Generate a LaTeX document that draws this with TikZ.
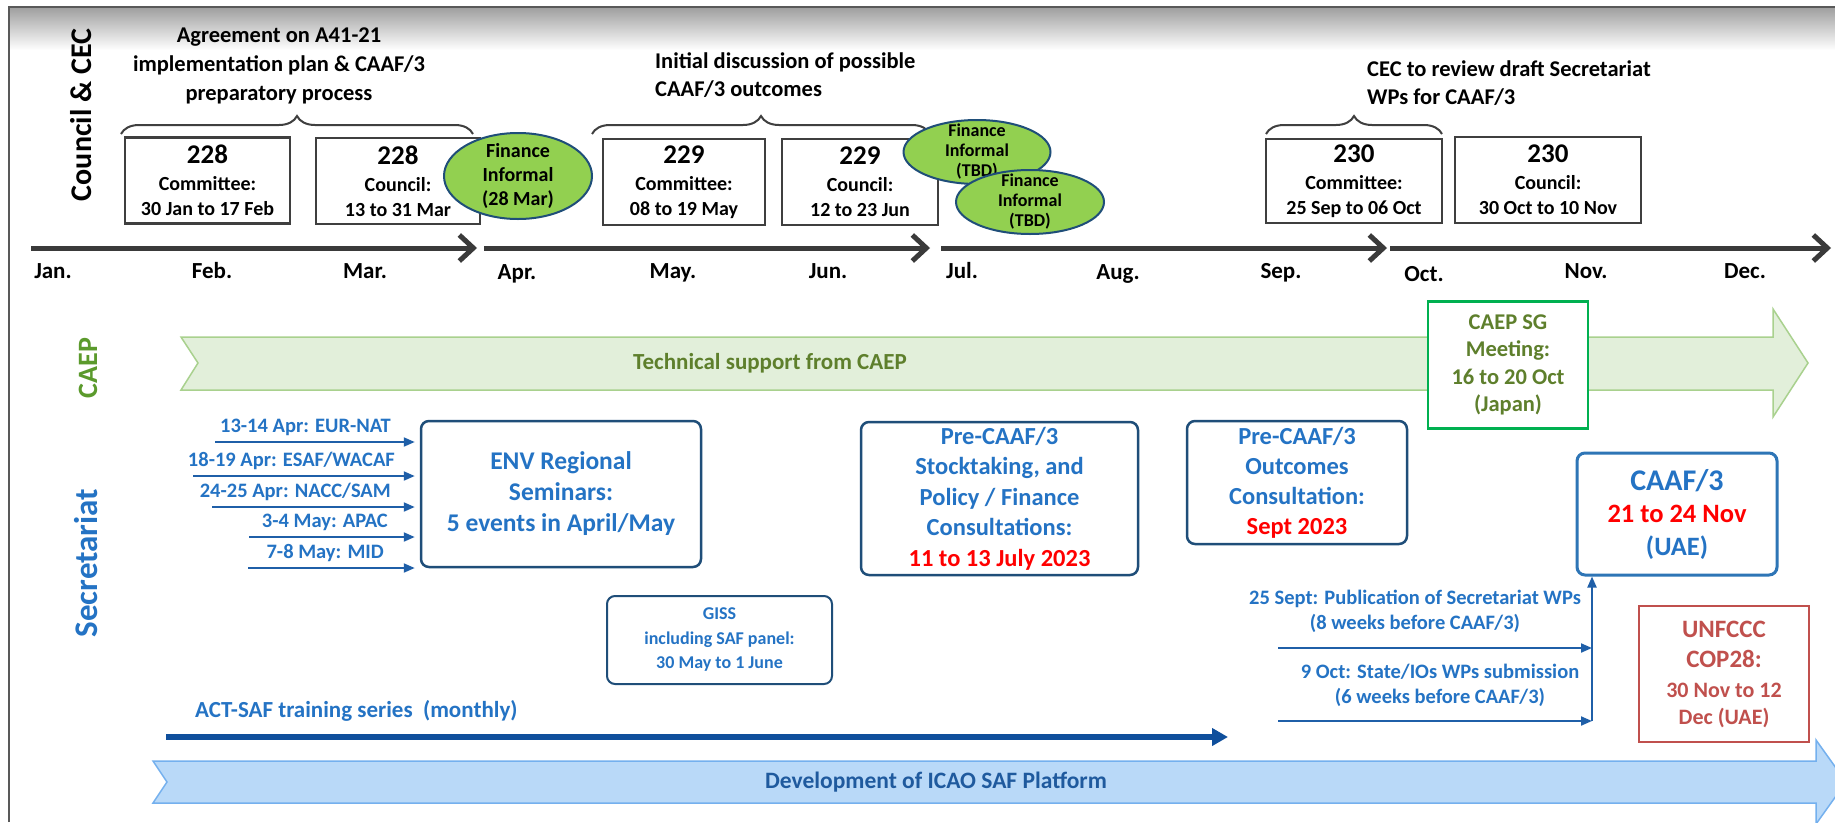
\documentclass[tikz,border=0pt]{standalone}
\usepackage{fontspec}
\setmainfont{Carlito}
\usepackage{xcolor}
\usetikzlibrary{arrows.meta,calc,decorations.pathreplacing,shapes.geometric,positioning}

\definecolor{framegray}{HTML}{595959}
\definecolor{boxgray}{HTML}{3F3F3F}
\definecolor{axisgray}{HTML}{3A3A3A}
\definecolor{finfill}{HTML}{92D050}
\definecolor{finline}{HTML}{1F4E79}
\definecolor{caeplbl}{HTML}{5B9A2C}
\definecolor{caeptxt}{HTML}{5E7F2C}
\definecolor{bandfill}{HTML}{E2EFDA}
\definecolor{bandline}{HTML}{A9D18E}
\definecolor{sggreen}{HTML}{00B050}
\definecolor{secblue}{HTML}{2473C4}
\definecolor{boxblue}{HTML}{1F4E79}
\definecolor{arrblue}{HTML}{1F5FA8}
\definecolor{actblue}{HTML}{0F4F9C}
\definecolor{caafblue}{HTML}{2E75B6}
\definecolor{copred}{HTML}{C0504D}
\definecolor{platfill}{HTML}{B9D9F8}
\definecolor{platline}{HTML}{74B0EE}
\definecolor{plattext}{HTML}{1F5A9E}

\tikzset{
  cbox/.style={draw=boxgray, line width=2.5pt, fill=white, inner sep=0pt, minimum height=86pt, align=center, font=\bfseries\fontsize{20}{25}\selectfont},
  fin/.style={ellipse, draw=finline, line width=2pt, fill=finfill, inner sep=0pt},
  fintext/.style={align=center, inner sep=0pt, font=\bfseries\fontsize{18}{20}\selectfont},
  brace/.style={decorate, decoration={brace, amplitude=18pt}, draw=boxgray, line width=2pt},
  axis/.style={draw=axisgray, line width=5pt, -{Straight Barb[length=14pt,width=26pt]}},
  month/.style={font=\bfseries\fontsize{23}{23}\selectfont, inner sep=0pt, text height=15pt, text depth=4pt},
  lane/.style={rotate=90, font=\bfseries\fontsize{30}{30}\selectfont, inner sep=0pt},
  title/.style={font=\bfseries\fontsize{22.5}{28}\selectfont, inner sep=0pt},
  sgbox/.style={draw=sggreen, line width=2.5pt, fill=white, inner sep=0pt, align=center, text=caeptxt, font=\bfseries\fontsize{22.5}{27.5}\selectfont},
  sbox/.style={draw=boxblue, line width=2.5pt, rounded corners=8pt, fill=white, inner sep=0pt, align=center, text=secblue, font=\bfseries\fontsize{24.5}{30.5}\selectfont},
  caafbox/.style={draw=caafblue, line width=3pt, rounded corners=8pt, fill=white, inner sep=0pt, align=center, text=secblue, font=\bfseries\fontsize{26.5}{32.5}\selectfont},
  copbox/.style={draw=copred, line width=2.5pt, fill=white, inner sep=0pt, align=center, text=copred, font=\bfseries\fontsize{22}{27}\selectfont},
  semlbl/.style={text=secblue, font=\bfseries\fontsize{20.5}{20.5}\selectfont, inner sep=0pt, text height=13pt, text depth=4pt},
  wplbl/.style={text=secblue, align=center, font=\bfseries\fontsize{20.5}{25}\selectfont, inner sep=0pt},
  semarrow/.style={draw=arrblue, line width=2pt, -{Triangle[length=11pt,width=9pt]}},
  actarrow/.style={draw=actblue, line width=6pt, -{Triangle[length=16pt,width=17pt]}},
}

\begin{document}
\begin{tikzpicture}[x=1pt,y=-1pt]
  \pgfmathsetmacro{\yaxis}{248}
  \pgfmathsetmacro{\ymonth}{272.5}
\useasboundingbox (0,0) rectangle (1835,822);
\clip (0,0) rectangle (1835,822);
\fill[white] (0,0) rectangle (1835,822);
%Rahmen
\shade[top color=black!38, bottom color=white] (9,7) rectangle (1835,50);
\draw[framegray, line width=1.5pt] (9,822) -- (9,7) -- (1835,7);

\node[lane] (lanecouncil) at (81,115) {Council \& CEC};
\node[lane, text=caeplbl, font=\bfseries\fontsize{28}{28}\selectfont] (lanecaep) at (88,368) {CAEP};
\node[lane, text=secblue, font=\bfseries\fontsize{33}{33}\selectfont] (lanesec) at (86,563) {Secretariat};

%Council und CEC
\node[title, align=center, font=\bfseries\fontsize{22.5}{29}\selectfont] (agree) at (279,66) {Agreement on A41-21\\implementation plan \& CAAF/3\\preparatory process};
\node[title, align=left, anchor=west] (initdisc) at (655,75) {Initial discussion of possible\\CAAF/3 outcomes};
\node[title, align=left, anchor=west] (cecrev) at (1367,83) {CEC to review draft Secretariat\\WPs for CAAF/3};
\draw[brace] (121,134) -- (473,134);
\draw[brace] (592,134) -- (930,134);
\draw[brace] (1266,134) -- (1442,134);

\node[cbox, minimum width=165pt] (c228com) at (207.5,180.5) {{\fontsize{27}{27}\selectfont 228}\\[2pt]Committee:\\30 Jan to 17 Feb};
\node[cbox, minimum width=164pt] (c228cou) at (398,181) {{\fontsize{27}{27}\selectfont 228}\\[2pt]Council:\\13 to 31 Mar};
\node[cbox, minimum width=162pt] (c229com) at (684,182) {{\fontsize{27}{27}\selectfont 229}\\[2pt]Committee:\\08 to 19 May};
\node[cbox, minimum width=156pt] (c229cou) at (860,182) {{\fontsize{27}{27}\selectfont 229}\\[2pt]Council:\\12 to 23 Jun};
\node[cbox, minimum width=176pt, minimum height=84pt] (c230com) at (1354,181) {{\fontsize{27}{27}\selectfont 230}\\[2pt]Committee:\\25 Sep to 06 Oct};
\node[cbox, minimum width=186pt] (c230cou) at (1548,180) {{\fontsize{27}{27}\selectfont 230}\\[2pt]Council:\\30 Oct to 10 Nov};

\node[fin, minimum width=148pt, minimum height=86pt] (fin28mar) at (518,176) {};
\node[fintext, font=\bfseries\fontsize{20}{24}\selectfont] (fin28mart) at (fin28mar) {Finance\\Informal\\(28 Mar)};
\node[fin, minimum width=147pt, minimum height=64pt] (fintbda) at (977,152) {};
\node[fintext] (fintbdat) at (fintbda) {Finance\\Informal\\(TBD)};
\node[fin, minimum width=148pt, minimum height=64pt] (fintbdb) at (1030,202) {};
\node[fintext] (fintbdbt) at (fintbdb) {Finance\\Informal\\(TBD)};

%Zeitachse
\coordinate (t0) at (31,\yaxis);
\coordinate (t1) at (477,\yaxis);
\coordinate (t2) at (484,\yaxis);
\coordinate (t3) at (930,\yaxis);
\coordinate (t4) at (941,\yaxis);
\coordinate (t5) at (1387,\yaxis);
\coordinate (t6) at (1390,\yaxis);
\coordinate (t7) at (1831,\yaxis);
\draw[axis] (t0) -- (t1);
\draw[axis] (t2) -- (t3);
\draw[axis] (t4) -- (t5);
\draw[axis] (t6) -- (t7);
\foreach \m/\xm/\dy [count=\i] in {Jan./53/0,Feb./212/0,Mar./365/0,Apr./517/1,May./673/0,Jun./828/0,Jul./962/0,Aug./1118/1,Sep./1281/0,Oct./1424/3,Nov./1586/0,Dec./1745/0}{
  \node[month] (mon\i) at (\xm,\ymonth+\dy) {\m};
}

%CAEP
\draw[draw=bandline, fill=bandfill, line width=1.5pt] (181,337) -- (1773,337) -- (1773,309) -- (1808,363) -- (1773,417) -- (1773,390) -- (181,390) -- (198,363) -- cycle;
\node[anchor=west, text=caeptxt, font=\bfseries\fontsize{23}{23}\selectfont, inner sep=0pt] (techsup) at (633,363) {Technical support from CAEP};
\node[sgbox, minimum width=160pt, minimum height=127pt] (caepsg) at (1508,365) {CAEP SG\\Meeting:\\16 to 20 Oct\\(Japan)};

%Secretariat
\node[sbox, minimum width=280pt, minimum height=146pt, font=\bfseries\fontsize{25.5}{31}\selectfont] (env) at (561,494) {ENV Regional\\Seminars:\\5 events in April/May};
\foreach \lbl/\xs/\ya/\xr [count=\i] in {{13-14 Apr: EUR-NAT}/215/442/391,{18-19 Apr: ESAF/WACAF}/193/476/395,{24-25 Apr: NACC/SAM}/212/507/391,{3-4 May: APAC}/249/537/388,{7-8 May: MID}/248/568/384}{
  \coordinate (sa\i) at (\xs,\ya);
  \node[semlbl, anchor=east] (sl\i) at (\xr,\ya-14) {\lbl};
  \draw[semarrow, shorten >=5pt] (sa\i) -- (sa\i -| env.west);
}
\node[sbox, minimum width=277pt, minimum height=153pt] (precaaf) at (999.5,498.5) {Pre-CAAF/3\\Stocktaking, and\\Policy / Finance\\Consultations:\\\textcolor{red}{11 to 13 July 2023}};
\node[sbox, minimum width=220pt, minimum height=123pt, font=\bfseries\fontsize{24.5}{30}\selectfont] (outcomes) at (1297,482.5) {Pre-CAAF/3\\Outcomes\\Consultation:\\\textcolor{red}{Sept 2023}};
\node[caafbox, minimum width=200pt, minimum height=122pt] (caaf) at (1677,514) {{\fontsize{30}{30}\selectfont CAAF/3}\\\textcolor{red}{21 to 24 Nov}\\(UAE)};
\node[sbox, line width=2pt, minimum width=225pt, minimum height=88pt, font=\bfseries\fontsize{18}{24.5}\selectfont] (giss) at (719.5,640) {GISS\\including SAF panel:\\30 May to 1 June};

\node[anchor=west, text=secblue, font=\bfseries\fontsize{23}{23}\selectfont, inner sep=0pt] (acttxt) at (195,711) {ACT-SAF training series\ \ (monthly)};
\coordinate (act0) at (166,737);
\coordinate (act1) at (1228,737);
\draw[actarrow] (act0) -- (act1);

\node[wplbl] (wpsept) at (1415,611) {25 Sept: Publication of Secretariat WPs\\(8 weeks before CAAF/3)};
\node[wplbl] (wpoct) at (1440,685) {9 Oct: State/IOs WPs submission\\(6 weeks before CAAF/3)};
\coordinate (wp1) at (1278,648);
\coordinate (wp2) at (1278,721);
\coordinate (vline) at (1592,721);
\draw[semarrow] (wp1) -- (wp1 -| vline);
\draw[semarrow] (wp2) -- (vline);
\draw[semarrow] (vline) -- (vline |- caaf.south);

\node[copbox, minimum width=170pt, minimum height=136pt] (cop28) at (1724,674) {{\fontsize{25}{25}\selectfont UNFCCC}\\[3pt]{\fontsize{25}{25}\selectfont COP28:}\\[3pt]30 Nov to 12\\Dec (UAE)};

%Plattform
\draw[draw=platline, fill=platfill, line width=1.5pt] (153,761) -- (1816,761) -- (1816,740) -- (1846,782) -- (1816,824) -- (1816,803) -- (153,803) -- (167,782) -- cycle;
\node[text=plattext, font=\bfseries\fontsize{23.5}{23.5}\selectfont, inner sep=0pt] (platform) at (936,782) {Development of ICAO SAF Platform};
\end{tikzpicture}
\end{document}
